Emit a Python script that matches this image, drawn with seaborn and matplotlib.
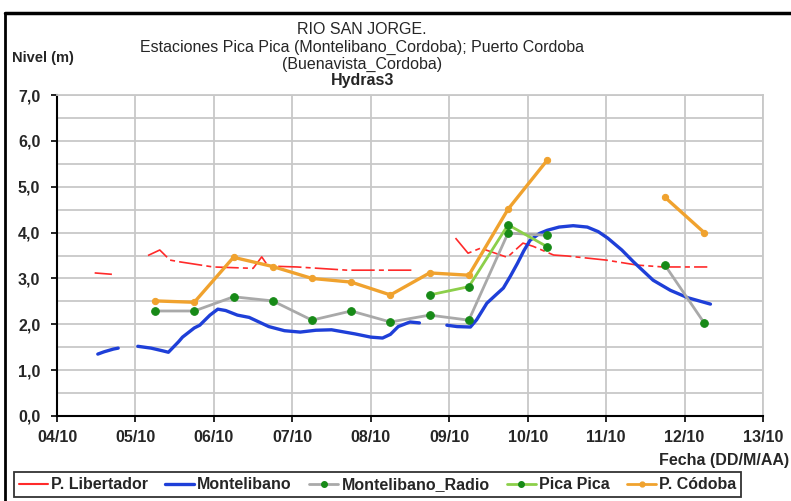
"""
Niveles del Rio San Jorge - recreacion del grafico Hydras3 con seaborn.
"""

import numpy as np
import pandas as pd
import matplotlib
matplotlib.use('Agg')
import matplotlib.pyplot as plt
from matplotlib.lines import Line2D
import seaborn as sns

# --- datos (dia de octubre, nivel en m) ---
day_ticks = [4, 5, 6, 7, 8, 9, 10, 11, 12, 13]
day_labels = ['04/10', '05/10', '06/10', '07/10', '08/10',
              '09/10', '10/10', '11/10', '12/10', '13/10']
nivel_ticks = [0, 1, 2, 3, 4, 5, 6, 7]
nivel_labels = ['0,0', '1,0', '2,0', '3,0', '4,0', '5,0', '6,0', '7,0']

# P. Libertador (tramos separados)
lib_day = [4.48, 4.70,
           5.16, 5.31, 5.44, 5.57, 5.99, 6.50, 6.61, 6.69, 7.06, 7.70, 8.54,
           9.08, 9.24, 9.40, 9.74, 9.94, 10.07, 10.33, 10.50, 11.00, 11.40, 11.73, 12.29]
lib_nivel = [3.12, 3.09,
             3.50, 3.62, 3.40, 3.36, 3.25, 3.22, 3.47, 3.27, 3.25, 3.18, 3.18,
             3.88, 3.55, 3.66, 3.46, 3.77, 3.70, 3.51, 3.49, 3.40, 3.29, 3.25, 3.25]
lib_seg = [0] * 2 + [1] * 11 + [2] * 12

# Montelibano
mon_day = [4.52, 4.60, 4.72, 4.78,
           5.03, 5.20, 5.35, 5.42, 5.55, 5.60, 5.75, 5.82, 5.95, 6.05, 6.15, 6.30,
           6.45, 6.70, 6.90, 7.10, 7.30, 7.50, 7.70, 7.80, 8.00, 8.15, 8.25, 8.35,
           8.50, 8.62,
           8.97, 9.10, 9.27, 9.35, 9.48, 9.60, 9.69, 9.78, 9.87, 9.95, 10.03, 10.15,
           10.25, 10.40, 10.58, 10.76, 10.90, 11.02, 11.20, 11.35, 11.60, 11.82,
           12.04, 12.33]
mon_nivel = [1.35, 1.40, 1.46, 1.48,
             1.52, 1.48, 1.42, 1.39, 1.62, 1.72, 1.92, 1.98, 2.20, 2.33, 2.30, 2.20,
             2.15, 1.95, 1.86, 1.83, 1.87, 1.88, 1.82, 1.79, 1.72, 1.70, 1.78, 1.95,
             2.05, 2.03,
             1.98, 1.95, 1.94, 2.10, 2.46, 2.65, 2.79, 3.05, 3.33, 3.60, 3.83, 3.98,
             4.05, 4.12, 4.15, 4.12, 4.02, 3.88, 3.62, 3.36, 2.96, 2.74,
             2.58, 2.44]
mon_seg = [0] * 4 + [1] * 26 + [2] * 24

# Montelibano_Radio
radio_day = [5.25, 5.75, 6.25, 6.75, 7.25, 7.75, 8.25, 8.75, 9.25, 9.75, 10.25,
             11.75, 12.25]
radio_nivel = [2.29, 2.29, 2.60, 2.51, 2.09, 2.29, 2.05, 2.20, 2.09, 3.99, 3.94,
               3.29, 2.03]
radio_seg = [0] * 11 + [1] * 2

# Pica Pica
pica_day = [8.75, 9.25, 9.75, 10.25]
pica_nivel = [2.64, 2.82, 4.17, 3.69]
pica_seg = [0] * 4

# P. Codoba
cod_day = [5.25, 5.75, 6.25, 6.75, 7.25, 7.75, 8.25, 8.75, 9.25, 9.75, 10.25,
           11.75, 12.25]
cod_nivel = [2.51, 2.48, 3.46, 3.26, 3.00, 2.92, 2.64, 3.12, 3.07, 4.51, 5.58,
             4.77, 4.00]
cod_seg = [0] * 11 + [1] * 2


def frame(days, niveles, segs):
    return pd.DataFrame({'dia': days, 'nivel': niveles, 'tramo': segs})


def main():
    sns.set_style('white')
    plt.rcParams['font.family'] = ['Liberation Sans', 'DejaVu Sans']

    fig = plt.figure(figsize=(7.91, 5.01), dpi=100)
    ax = fig.add_axes([57 / 791, 85 / 501, 706 / 791, 321 / 501])

    c_red = '#ff2a2a'
    c_blue = '#1e3fd8'
    c_gray = '#a9a9a9'
    c_lgreen = '#8ccf4a'
    c_orange = '#f0a22e'
    c_mark = '#178a17'

    sns.lineplot(data=frame(lib_day, lib_nivel, lib_seg), x='dia', y='nivel',
                 units='tramo', estimator=None, sort=False, ax=ax,
                 color=c_red, linewidth=1.2, dashes=False, zorder=3)
    for ln in ax.get_lines():
        ln.set_dashes([14, 2.5, 3, 2.5])

    sns.lineplot(data=frame(mon_day, mon_nivel, mon_seg), x='dia', y='nivel',
                 units='tramo', estimator=None, sort=False, ax=ax,
                 color=c_blue, linewidth=2.4, zorder=4)
    sns.lineplot(data=frame(radio_day, radio_nivel, radio_seg), x='dia', y='nivel',
                 units='tramo', estimator=None, sort=False, ax=ax,
                 color=c_gray, linewidth=2.0, marker='o', markersize=5.5,
                 markerfacecolor=c_mark, markeredgecolor=c_mark, zorder=5)
    sns.lineplot(data=frame(pica_day, pica_nivel, pica_seg), x='dia', y='nivel',
                 units='tramo', estimator=None, sort=False, ax=ax,
                 color=c_lgreen, linewidth=2.0, marker='o', markersize=5.5,
                 markerfacecolor=c_mark, markeredgecolor=c_mark, zorder=5)
    sns.lineplot(data=frame(cod_day, cod_nivel, cod_seg), x='dia', y='nivel',
                 units='tramo', estimator=None, sort=False, ax=ax,
                 color=c_orange, linewidth=2.4, marker='o', markersize=4.5,
                 markeredgecolor=c_orange, zorder=6)

    ax.set_xlim(4, 13)
    ax.set_ylim(0, 7)
    ax.set_xticks(day_ticks)
    ax.set_xticklabels(day_labels, fontsize=11.5, fontweight='bold')
    ax.set_yticks(nivel_ticks)
    ax.set_yticklabels(nivel_labels, fontsize=11.5, fontweight='bold')
    ax.set_yticks(np.arange(0.5, 7, 1.0), minor=True)
    ax.tick_params(axis='both', which='major', direction='out', length=4,
                   width=1.2, color='black', left=True, bottom=True)
    ax.tick_params(axis='x', which='major', pad=6)
    ax.tick_params(axis='y', which='major', pad=8)
    ax.tick_params(axis='y', which='minor', length=0)
    ax.grid(True, which='both', color='#c8c8c8', linewidth=1.3)
    ax.set_axisbelow(True)
    ax.set_xlabel('')
    ax.set_ylabel('')
    for side in ['left', 'bottom']:
        ax.spines[side].set_color('black')
        ax.spines[side].set_linewidth(1.5)
    for side in ['top', 'right']:
        ax.spines[side].set_color('#c8c8c8')
        ax.spines[side].set_linewidth(1.3)

    # titulos
    tx = 0.458
    fig.text(tx, 1 - 30 / 501, 'RIO SAN JORGE.', ha='center', va='center',
             fontsize=11.5)
    fig.text(tx, 1 - 47 / 501,
             'Estaciones Pica Pica (Montelibano_Cordoba); Puerto Cordoba',
             ha='center', va='center', fontsize=11.5)
    fig.text(tx, 1 - 64 / 501, '(Buenavista_Cordoba)', ha='center',
             va='center', fontsize=11.5)
    fig.text(tx, 1 - 80 / 501, 'Hydras3', ha='center', va='center',
             fontsize=11.5, fontweight='bold')
    fig.text(12 / 791, 1 - 58 / 501, 'Nivel (m)', ha='left', va='center',
             fontsize=10.5, fontweight='bold')
    fig.text(789 / 791, 1 - 460 / 501, 'Fecha (DD/M/AA)', ha='right',
             va='center', fontsize=11.5, fontweight='bold')

    # marco de la figura
    fig.add_artist(Line2D([5 / 791, 1], [1 - 13 / 501, 1 - 13 / 501],
                          color='black', linewidth=2.5, transform=fig.transFigure))
    fig.add_artist(Line2D([5 / 791, 5 / 791], [0, 1 - 13 / 501],
                          color='black', linewidth=2.0, transform=fig.transFigure))

    handles = [
        Line2D([], [], color=c_red, linewidth=1.5),
        Line2D([], [], color=c_blue, linewidth=2.4),
        Line2D([], [], color=c_gray, linewidth=2.0, marker='o', markersize=4,
               markerfacecolor=c_mark, markeredgecolor=c_mark),
        Line2D([], [], color=c_lgreen, linewidth=2.0, marker='o', markersize=4,
               markerfacecolor=c_mark, markeredgecolor=c_mark),
        Line2D([], [], color=c_orange, linewidth=2.0, marker='o', markersize=3.5,
               markeredgecolor=c_orange),
    ]
    names = ['P. Libertador', 'Montelibano', 'Montelibano_Radio', 'Pica Pica',
             'P. Códoba']
    leg = fig.legend(handles, names, loc='lower left',
                     bbox_to_anchor=(14 / 791, 4 / 501), ncol=5, frameon=True,
                     fancybox=False, edgecolor='black', handlelength=1.8,
                     handletextpad=0.2, columnspacing=1.1, borderpad=0.3,
                     borderaxespad=0.0, prop={'weight': 'bold', 'size': 11.5})
    leg.get_frame().set_linewidth(1.3)

    fig.savefig('out.png', dpi=100)
    plt.close(fig)


if __name__ == '__main__':
    main()
